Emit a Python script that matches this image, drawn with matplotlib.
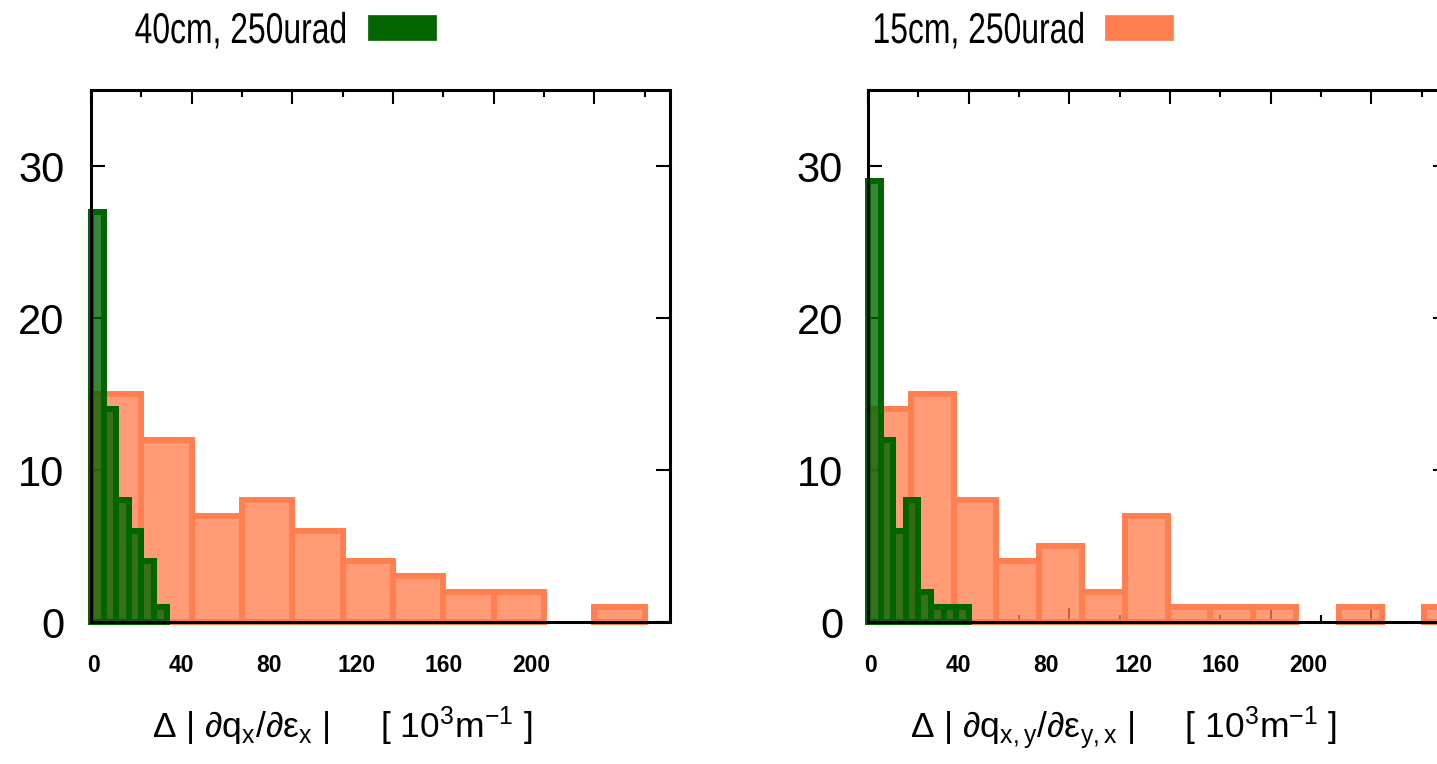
import matplotlib
matplotlib.use("Agg")
import matplotlib.pyplot as plt
from matplotlib.patches import Rectangle
from matplotlib.patheffects import AbstractPathEffect
from matplotlib.transforms import Affine2D

# histogram data
# left panel: |dq_x/de_x|
left_green_edges = [0, 5, 10, 15, 20, 25, 30]
left_green_counts = [27, 14, 8, 6, 4, 1]
left_orange_edges = [0, 20, 40, 60, 80, 100, 120, 140, 160, 180, 200, 220]
left_orange_counts = [15, 12, 7, 8, 6, 4, 3, 2, 2, 0, 1]

# right panel: |dq_xy/de_yx|
right_green_edges = [0, 5, 10, 15, 20, 25, 30, 35, 40]
right_green_counts = [29, 12, 6, 8, 2, 1, 1, 1]
right_orange_edges = [0, 17, 34, 51, 68, 85, 102, 119, 136, 153, 170, 187, 204, 221, 238]
right_orange_counts = [14, 15, 8, 4, 5, 2, 7, 1, 1, 1, 0, 1, 0, 1]

xticks = [0, 40, 80, 120, 160, 200]
yticks = [0, 10, 20, 30]
labels = ["40cm, 250urad", "15cm, 250urad"]
xlabels = [r"Δ | ∂q$_\mathrm{x}$/∂ε$_\mathrm{x}$ |     [ 10$^\mathrm{3}$m$^\mathrm{-1}$ ]",
           r"Δ | ∂q$_\mathrm{x,y}$/∂ε$_\mathrm{y,x}$ |     [ 10$^\mathrm{3}$m$^\mathrm{-1}$ ]"]

GREEN = "#006400"
CORAL = "#ff7f50"

plt.rcParams["font.family"] = ["Liberation Sans", "DejaVu Sans"]
plt.rcParams["mathtext.fontset"] = "custom"
plt.rcParams["mathtext.rm"] = "Liberation Sans"
plt.rcParams["mathtext.it"] = "Liberation Sans"

W, H = 1437, 764
fig = plt.figure(figsize=(W / 100, H / 100), dpi=100)


class Squeeze(AbstractPathEffect):
    """squeeze glyphs horizontally around a fixed x (display px) -> narrow font look"""

    def __init__(self, sx, x0):
        super().__init__()
        self.sx, self.x0 = sx, x0

    def draw_path(self, renderer, gc, tpath, affine, rgbFace=None):
        t = affine + Affine2D().translate(-self.x0, 0).scale(self.sx, 1).translate(self.x0, 0)
        renderer.draw_path(gc, tpath, t, rgbFace)


def px(x0, y0, w, h):
    return [x0 / W, 1 - (y0 + h) / H, w / W, h / H]


def draw_hist(ax, edges, counts, color, alpha):
    rgb = matplotlib.colors.to_rgb(color)
    for lo, hi, c in zip(edges[:-1], edges[1:], counts):
        if c == 0:
            continue
        ax.bar(lo, c, width=hi - lo, align="edge", facecolor=(*rgb, alpha),
               edgecolor=color, linewidth=4.3, clip_on=False, zorder=2)


panels = [
    (91, left_orange_edges, left_orange_counts, left_green_edges, left_green_counts, 19),
    (868, right_orange_edges, right_orange_counts, right_green_edges, right_green_counts, 18),
]

for i, (x0, oe, oc, ge, gc, ypad) in enumerate(panels):
    ax = fig.add_axes(px(x0, 90, 579, 532))
    draw_hist(ax, oe, oc, CORAL, 0.78)
    draw_hist(ax, ge, gc, GREEN, 0.78)
    ax.set_xlim(0, 230)
    ax.set_ylim(0, 35)
    for s in ax.spines.values():
        s.set_linewidth(2.2)
        s.set_zorder(5)
    ax.set_xticks(xticks)
    ax.set_xticks(range(20, 230, 40), minor=True)
    ax.set_xticklabels([])
    ax.set_yticks(yticks)
    ax.set_yticklabels([str(v) for v in yticks], fontsize=30)
    ax.tick_params(axis="both", which="major", direction="in", top=True, right=True,
                   length=10, width=1.5)
    ax.tick_params(axis="x", which="minor", direction="in", top=True, length=5, width=1.5)
    ax.tick_params(axis="y", pad=ypad)
    # gnuplot put the x labels slightly off the ticks
    for v in xticks:
        ax.text(v * 0.87 + 1, -0.081, str(v), transform=ax.get_xaxis_transform(),
                ha="center", va="center", fontsize=16.5, fontweight="bold")

# key entries above each panel
for text, color, tx, bx in [(labels[0], GREEN, 347, 368), (labels[1], CORAL, 1085, 1105)]:
    fig.text(tx / W, 1 - 43 / H, text, ha="right", va="baseline", fontsize=31,
             path_effects=[Squeeze(0.74, tx)])
    fig.patches.append(Rectangle((bx / W, 1 - 40 / H), 68 / W, 25 / H,
                                 transform=fig.transFigure, facecolor=color,
                                 edgecolor=color, linewidth=0.5))

fig.text(152 / W, 1 - 738 / H, xlabels[0], ha="left", va="baseline", fontsize=25.5)
fig.text(910 / W, 1 - 738 / H, xlabels[1], ha="left", va="baseline", fontsize=25.5)

fig.savefig("out.png", dpi=100)
